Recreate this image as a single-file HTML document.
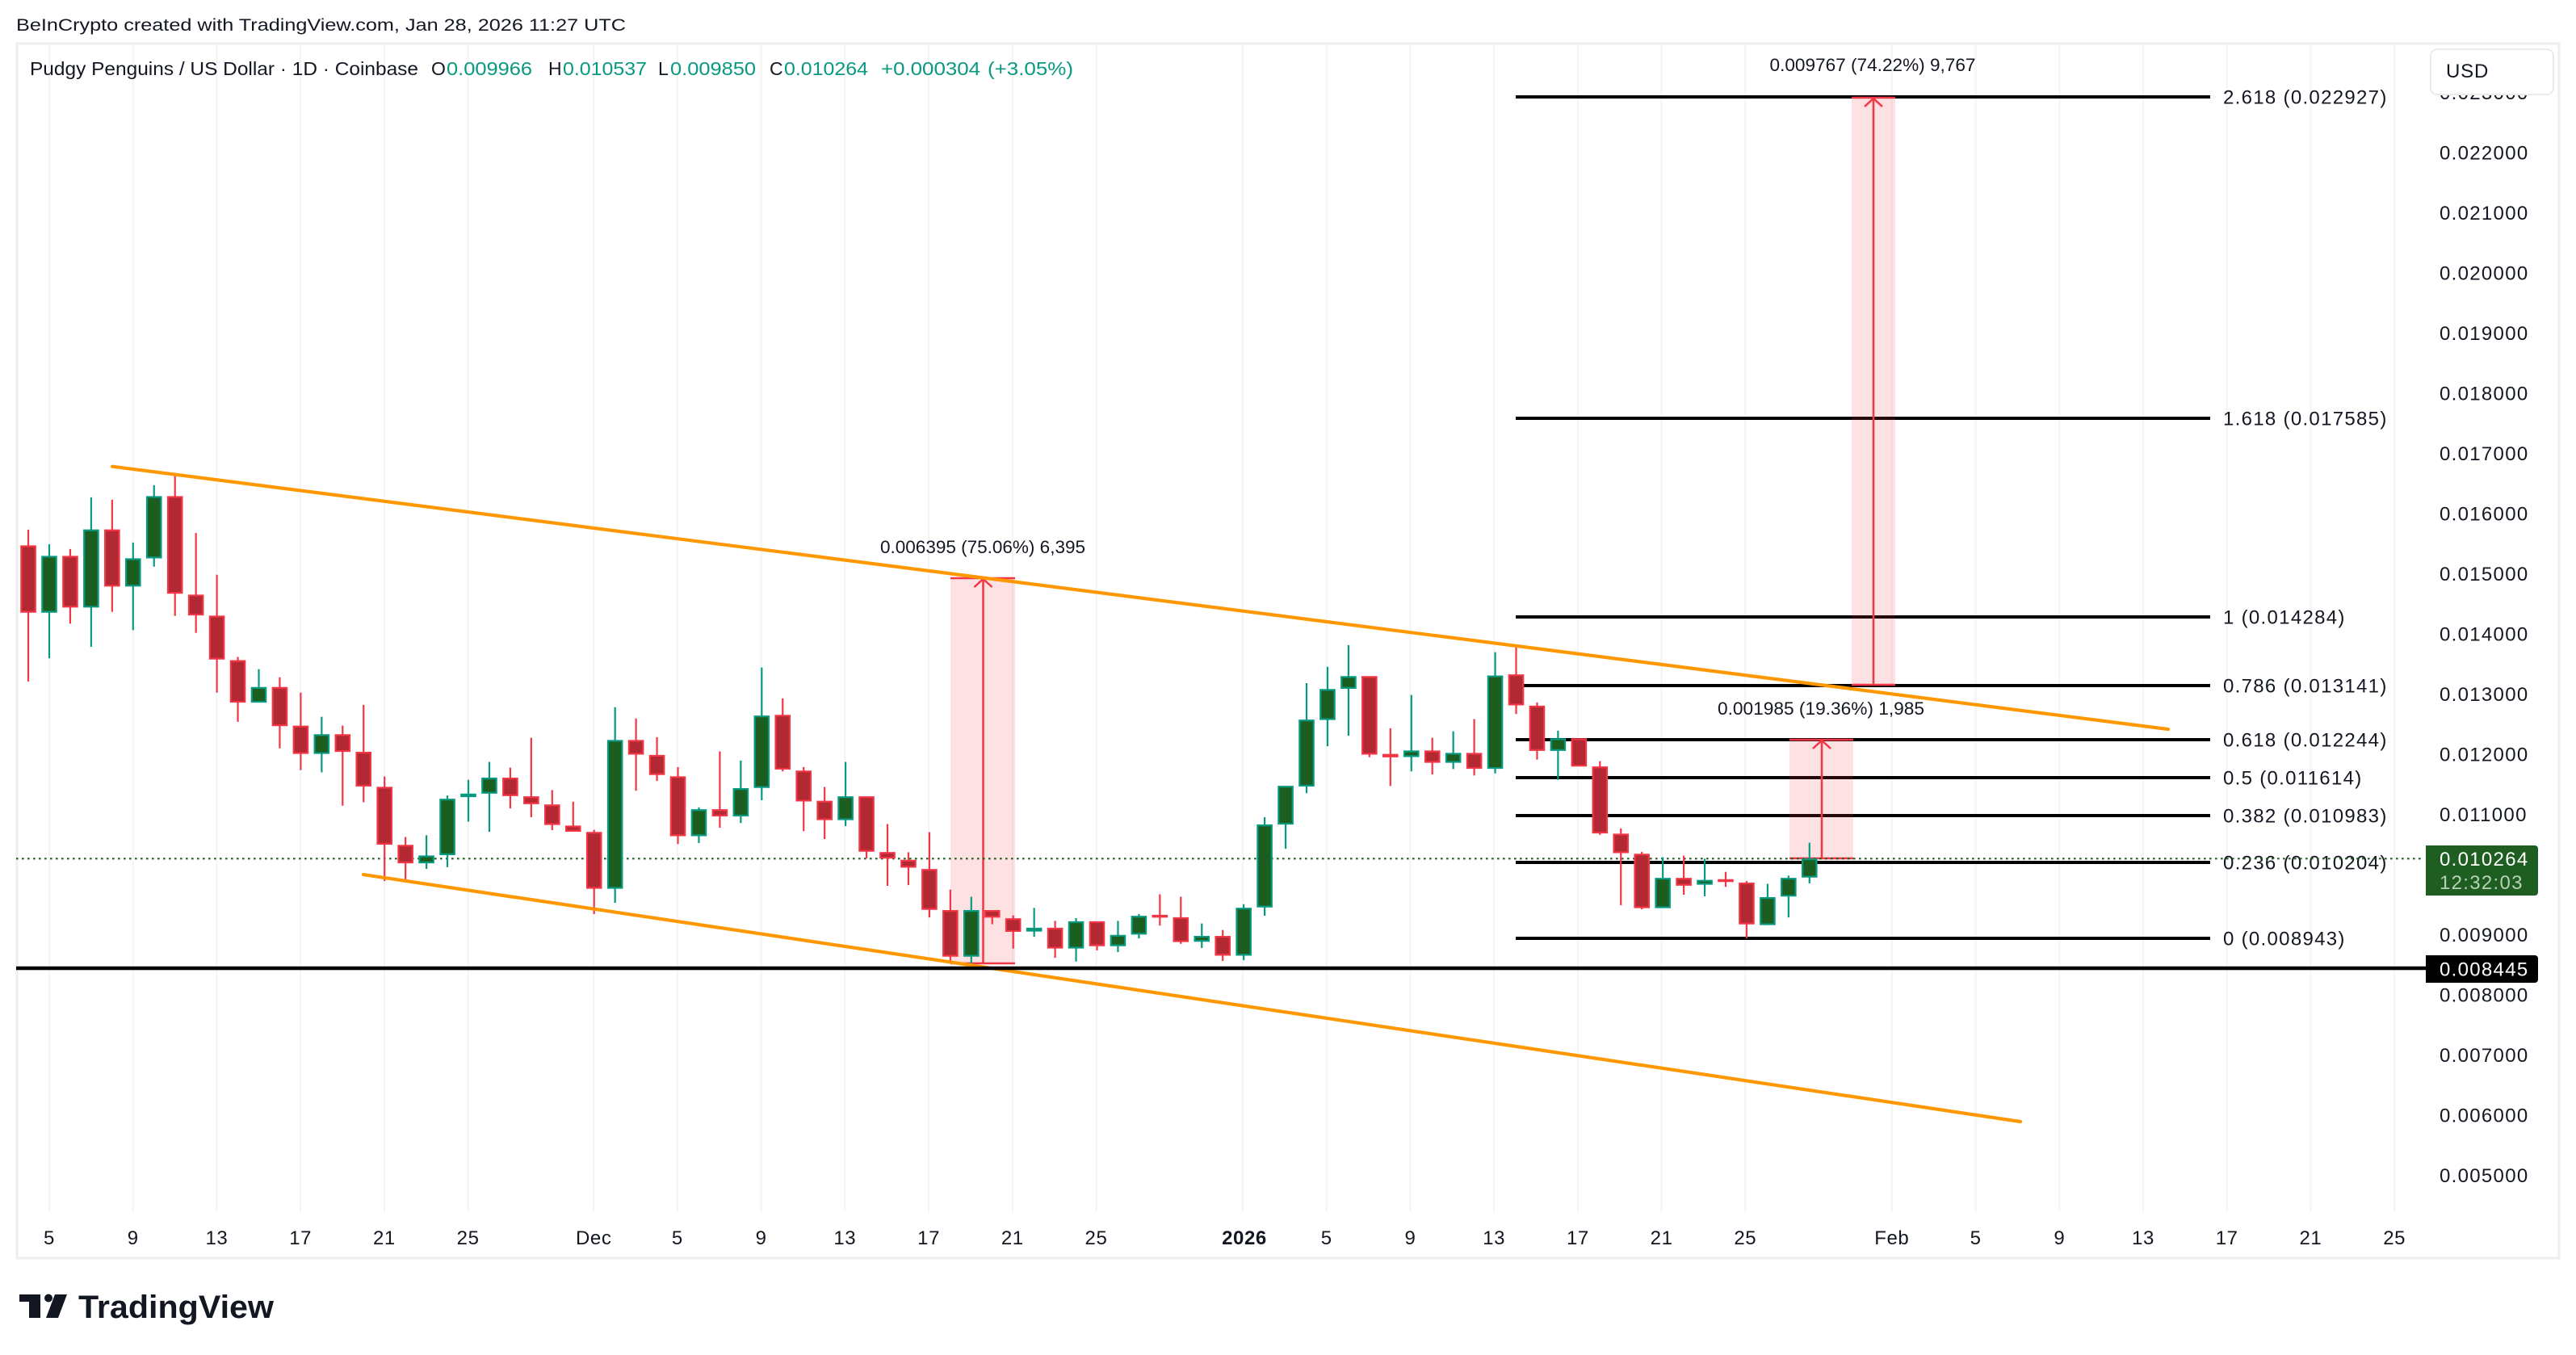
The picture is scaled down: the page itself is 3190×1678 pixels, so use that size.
<!DOCTYPE html>
<html>
<head>
<meta charset="utf-8">
<style>
html,body{margin:0;padding:0;background:#fff;}
svg{display:block;}
.nss{vector-effect:non-scaling-stroke;}
.cd rect,.cd path{vector-effect:non-scaling-stroke;}
text{font-family:"Liberation Sans",Arial,sans-serif;fill:#131722;}
.ax{font-size:24px;letter-spacing:1.3px;}
.tm{font-size:24px;text-anchor:middle;letter-spacing:0.6px;}
.ms{font-size:22px;text-anchor:middle;}
</style>
</head>
<body>
<svg width="3190" height="1678" viewBox="0 0 3190 1678" xmlns="http://www.w3.org/2000/svg">
<rect x="0" y="0" width="3190" height="1678" fill="#ffffff"/>

<!-- header -->
<text x="20" y="38" font-size="21" textLength="755" lengthAdjust="spacingAndGlyphs">BeInCrypto created with TradingView.com, Jan 28, 2026 11:27 UTC</text>

<!-- frame -->
<rect x="21" y="54" width="3148" height="1504" fill="none" stroke="#eeeeee" stroke-width="3"/>

<!-- vertical gridlines -->
<g stroke="#f4f4f4" stroke-width="2">
<line x1="61" y1="56" x2="61" y2="1501"/><line x1="164.7" y1="56" x2="164.7" y2="1501"/>
<line x1="268.4" y1="56" x2="268.4" y2="1501"/><line x1="372.2" y1="56" x2="372.2" y2="1501"/>
<line x1="475.9" y1="56" x2="475.9" y2="1501"/><line x1="579.6" y1="56" x2="579.6" y2="1501"/>
<line x1="735.2" y1="56" x2="735.2" y2="1501"/><line x1="838.9" y1="56" x2="838.9" y2="1501"/>
<line x1="942.6" y1="56" x2="942.6" y2="1501"/><line x1="1046.3" y1="56" x2="1046.3" y2="1501"/>
<line x1="1150.1" y1="56" x2="1150.1" y2="1501"/><line x1="1253.8" y1="56" x2="1253.8" y2="1501"/>
<line x1="1357.5" y1="56" x2="1357.5" y2="1501"/><line x1="1539" y1="56" x2="1539" y2="1501"/>
<line x1="1642.7" y1="56" x2="1642.7" y2="1501"/><line x1="1746.5" y1="56" x2="1746.5" y2="1501"/>
<line x1="1850.2" y1="56" x2="1850.2" y2="1501"/><line x1="1953.9" y1="56" x2="1953.9" y2="1501"/>
<line x1="2057.6" y1="56" x2="2057.6" y2="1501"/><line x1="2161.3" y1="56" x2="2161.3" y2="1501"/>
<line x1="2342.8" y1="56" x2="2342.8" y2="1501"/><line x1="2446.6" y1="56" x2="2446.6" y2="1501"/>
<line x1="2550.3" y1="56" x2="2550.3" y2="1501"/><line x1="2654" y1="56" x2="2654" y2="1501"/>
<line x1="2757.7" y1="56" x2="2757.7" y2="1501"/><line x1="2861.4" y1="56" x2="2861.4" y2="1501"/>
<line x1="2965.2" y1="56" x2="2965.2" y2="1501"/>
</g>

<!-- symbol line -->
<text x="37" y="93" font-size="23" textLength="481" lengthAdjust="spacingAndGlyphs">Pudgy Penguins / US Dollar · 1D · Coinbase</text>
<text x="534" y="93" font-size="23">O</text>
<text x="553" y="93" font-size="23" style="fill:#089981" textLength="106" lengthAdjust="spacingAndGlyphs">0.009966</text>
<text x="679" y="93" font-size="23">H</text>
<text x="697" y="93" font-size="23" style="fill:#089981" textLength="104" lengthAdjust="spacingAndGlyphs">0.010537</text>
<text x="815" y="93" font-size="23">L</text>
<text x="830" y="93" font-size="23" style="fill:#089981" textLength="106" lengthAdjust="spacingAndGlyphs">0.009850</text>
<text x="953" y="93" font-size="23">C</text>
<text x="971" y="93" font-size="23" style="fill:#089981" textLength="104" lengthAdjust="spacingAndGlyphs">0.010264</text>
<text x="1091" y="93" font-size="23" style="fill:#089981" textLength="123" lengthAdjust="spacingAndGlyphs">+0.000304</text>
<text x="1223" y="93" font-size="23" style="fill:#089981" textLength="106" lengthAdjust="spacingAndGlyphs">(+3.05%)</text>

<!-- fib lines -->
<g stroke="#000" stroke-width="4">
<line x1="1877" y1="120" x2="2737" y2="120"/>
<line x1="1877" y1="518" x2="2737" y2="518"/>
<line x1="1877" y1="764" x2="2737" y2="764"/>
<line x1="1877" y1="849" x2="2737" y2="849"/>
<line x1="1877" y1="916" x2="2737" y2="916"/>
<line x1="1877" y1="963" x2="2737" y2="963"/>
<line x1="1877" y1="1010" x2="2737" y2="1010"/>
<line x1="1877" y1="1068" x2="2737" y2="1068"/>
<line x1="1877" y1="1162" x2="2737" y2="1162"/>
</g>
<g class="ax">
<text x="2753" y="128.6">2.618 (0.022927)</text>
<text x="2753" y="526.6">1.618 (0.017585)</text>
<text x="2753" y="772.6">1 (0.014284)</text>
<text x="2753" y="857.6">0.786 (0.013141)</text>
<text x="2753" y="924.6">0.618 (0.012244)</text>
<text x="2753" y="971.6">0.5 (0.011614)</text>
<text x="2753" y="1018.6">0.382 (0.010983)</text>
<text x="2753" y="1076.6">0.236 (0.010204)</text>
<text x="2753" y="1170.6">0 (0.008943)</text>
</g>

<!-- measurement rectangles -->
<g fill="#f23645" fill-opacity="0.15">
<rect x="1177" y="716" width="80" height="477"/>
<rect x="2216" y="916" width="79" height="147"/>
<rect x="2293" y="120" width="54" height="728"/>
</g>
<g stroke="#f23645" stroke-width="2.5" fill="none">
<line x1="1177" y1="716" x2="1257" y2="716"/><line x1="1177" y1="1193" x2="1257" y2="1193"/>
<line x1="1217.5" y1="1193" x2="1217.5" y2="717"/><polyline points="1206.5,727 1217.5,717 1228.5,727"/>
<line x1="2216" y1="916" x2="2295" y2="916"/><line x1="2216" y1="1063" x2="2295" y2="1063"/>
<line x1="2256" y1="1063" x2="2256" y2="917"/><polyline points="2245,927 2256,917 2267,927"/>
<line x1="2293" y1="121" x2="2347" y2="121"/><line x1="2293" y1="848" x2="2347" y2="848"/>
<line x1="2320" y1="848" x2="2320" y2="122"/><polyline points="2309,132 2320,122 2331,132"/>
</g>
<text class="ms" x="1217" y="685" textLength="254" lengthAdjust="spacingAndGlyphs">0.006395 (75.06%) 6,395</text>
<text class="ms" x="2255" y="885" textLength="256" lengthAdjust="spacingAndGlyphs">0.001985 (19.36%) 1,985</text>
<text class="ms" x="2319" y="88" textLength="255" lengthAdjust="spacingAndGlyphs">0.009767 (74.22%) 9,767</text>

<!-- current price dotted line -->
<line x1="20" y1="1063.3" x2="3000" y2="1063.3" stroke="#1b5e20" stroke-width="2.2" stroke-dasharray="2.6 4.4"/>

<!-- candles -->
<g class="cd" transform="translate(61,560) scale(25.95,0.42052)">
<path fill="none" stroke="#f23645" stroke-width="2.2" d="M-1 228V675M1 285V505M3 140V470M6 66V482M7 238V532M8 361V708M9 603V794M11 663V872M12 708V936M14 805V1041M15 744V1031M16 955V1263M17 1133V1263M22 929V1049M23 841V1075M24 995V1113M25 1029V1117M26 1112V1360M28 784V997M29 839V968M30 927V1154M32 881V1106M35 725V940M36 927V1116M37 986V1139M39 1014V1196M40 1095V1277M41 1178V1275M42 1119V1370M43 1288V1505M45 1349V1390M46 1364V1462M48 1380V1489M50 1382V1467M53 1302V1394M54 1309V1448M56 1407V1498M63 660V898M64 813V983M66 841V949M68 786V952M70 570V771M71 737V905M73 843V925M74 910V1127M75 1108V1334M76 1177V1346M78 1188V1303M80 1236V1280M81 1263V1432"/>
<path fill="none" stroke="#089981" stroke-width="2.2" d="M0 271V607M2 133V573M4 266V524M5 97V337M10 639V737M13 779V943M18 1128V1227M19 1011V1222M20 965V1088M21 912V1118M27 751V1327M31 1046V1151M33 908V1092M34 634V1025M38 912V1101M44 1309V1518M47 1342V1427M49 1372V1500M51 1380V1472M52 1360V1432M55 1388V1460M57 1331V1496M58 1075V1365M59 983V1168M60 680V1004M61 632V866M62 568V835M65 715V940M67 822V933M69 589V946M72 820V965M77 1193V1342M79 1197V1308M82 1271V1392M83 1247V1370M84 1150V1270"/>
<g fill="#b22833" stroke="#f23645" stroke-width="2.2">
<rect x="-1.335" y="277" width=".67" height="193"/>
<rect x="0.665" y="308" width=".67" height="147"/>
<rect x="2.665" y="230" width=".67" height="163"/>
<rect x="5.665" y="132" width=".67" height="282"/>
<rect x="6.665" y="422" width=".67" height="56"/>
<rect x="7.665" y="484" width=".67" height="124"/>
<rect x="8.665" y="615" width=".67" height="120"/>
<rect x="10.665" y="694" width=".67" height="110"/>
<rect x="11.665" y="808" width=".67" height="78"/>
<rect x="13.665" y="833" width=".67" height="47"/>
<rect x="14.665" y="885" width=".67" height="97"/>
<rect x="15.665" y="988" width=".67" height="165"/>
<rect x="16.665" y="1159" width=".67" height="49"/>
<rect x="21.665" y="961" width=".67" height="49"/>
<rect x="22.665" y="1016" width=".67" height="18"/>
<rect x="23.665" y="1040" width=".67" height="55"/>
<rect x="24.665" y="1102" width=".67" height="13"/>
<rect x="25.665" y="1121" width=".67" height="162"/>
<rect x="27.665" y="850" width=".67" height="38"/>
<rect x="28.665" y="894" width=".67" height="54"/>
<rect x="29.665" y="957" width=".67" height="171"/>
<rect x="31.665" y="1054" width=".67" height="16"/>
<rect x="34.665" y="776" width=".67" height="156"/>
<rect x="35.665" y="940" width=".67" height="86"/>
<rect x="36.665" y="1029" width=".67" height="52"/>
<rect x="38.665" y="1016" width=".67" height="158"/>
<rect x="39.665" y="1180" width=".67" height="14"/>
<rect x="40.665" y="1203" width=".67" height="18"/>
<rect x="41.665" y="1230" width=".67" height="115"/>
<rect x="42.665" y="1351" width=".67" height="132"/>
<rect x="44.665" y="1351" width=".67" height="17"/>
<rect x="45.665" y="1375" width=".67" height="35"/>
<rect x="47.665" y="1403" width=".67" height="56"/>
<rect x="49.665" y="1384" width=".67" height="68"/>
<rect x="52.665" y="1365" width=".67" height="3"/>
<rect x="53.665" y="1372" width=".67" height="68"/>
<rect x="55.665" y="1427" width=".67" height="53"/>
<rect x="62.665" y="662" width=".67" height="226"/>
<rect x="63.665" y="891" width=".67" height="5"/>
<rect x="65.665" y="881" width=".67" height="31"/>
<rect x="67.665" y="888" width=".67" height="42"/>
<rect x="69.665" y="657" width=".67" height="86"/>
<rect x="70.665" y="749" width=".67" height="128"/>
<rect x="72.665" y="845" width=".67" height="78"/>
<rect x="73.665" y="928" width=".67" height="192"/>
<rect x="74.665" y="1126" width=".67" height="52"/>
<rect x="75.665" y="1185" width=".67" height="155"/>
<rect x="77.665" y="1256" width=".67" height="18"/>
<rect x="79.665" y="1260" width=".67" height="3"/>
<rect x="80.665" y="1270" width=".67" height="118"/>
</g>
<g fill="#1b5e20" stroke="#089981" stroke-width="2.2">
<rect x="-0.335" y="308" width=".67" height="162"/>
<rect x="1.665" y="230" width=".67" height="225"/>
<rect x="3.665" y="315" width=".67" height="78"/>
<rect x="4.665" y="132" width=".67" height="178"/>
<rect x="9.665" y="694" width=".67" height="41"/>
<rect x="12.665" y="833" width=".67" height="53"/>
<rect x="17.665" y="1190" width=".67" height="18"/>
<rect x="18.665" y="1023" width=".67" height="161"/>
<rect x="19.665" y="1008" width=".67" height="5"/>
<rect x="20.665" y="961" width=".67" height="42"/>
<rect x="26.665" y="850" width=".67" height="433"/>
<rect x="30.665" y="1054" width=".67" height="74"/>
<rect x="32.665" y="992" width=".67" height="78"/>
<rect x="33.665" y="778" width=".67" height="208"/>
<rect x="37.665" y="1016" width=".67" height="65"/>
<rect x="43.665" y="1351" width=".67" height="132"/>
<rect x="46.665" y="1403" width=".67" height="6"/>
<rect x="48.665" y="1384" width=".67" height="75"/>
<rect x="50.665" y="1424" width=".67" height="28"/>
<rect x="51.665" y="1368" width=".67" height="50"/>
<rect x="54.665" y="1427" width=".67" height="12"/>
<rect x="56.665" y="1344" width=".67" height="136"/>
<rect x="57.665" y="1099" width=".67" height="239"/>
<rect x="58.665" y="985" width=".67" height="109"/>
<rect x="59.665" y="790" width=".67" height="192"/>
<rect x="60.665" y="700" width=".67" height="86"/>
<rect x="61.665" y="662" width=".67" height="32"/>
<rect x="64.665" y="881" width=".67" height="14"/>
<rect x="66.665" y="888" width=".67" height="24"/>
<rect x="68.665" y="660" width=".67" height="270"/>
<rect x="71.665" y="845" width=".67" height="32"/>
<rect x="76.665" y="1256" width=".67" height="84"/>
<rect x="78.665" y="1262" width=".67" height="9"/>
<rect x="81.665" y="1313" width=".67" height="77"/>
<rect x="82.665" y="1256" width=".67" height="50"/>
<rect x="83.665" y="1199" width=".67" height="51"/>
</g>
</g>

<!-- trend lines -->
<g stroke="#ff9800" stroke-width="4.2" stroke-linecap="round">
<line x1="139" y1="577.7" x2="2685" y2="903.1"/>
<line x1="450" y1="1083.1" x2="2502" y2="1389"/>
</g>

<!-- horizontal support line -->
<line x1="20" y1="1199" x2="3004" y2="1199" stroke="#000" stroke-width="4.6"/>

<!-- price axis labels -->
<g class="ax">
<text x="3021" y="123.1">0.023000</text>
<text x="3021" y="197.6">0.022000</text>
<text x="3021" y="272.1">0.021000</text>
<text x="3021" y="346.6">0.020000</text>
<text x="3021" y="421.1">0.019000</text>
<text x="3021" y="495.6">0.018000</text>
<text x="3021" y="570.1">0.017000</text>
<text x="3021" y="644.6">0.016000</text>
<text x="3021" y="719.1">0.015000</text>
<text x="3021" y="793.6">0.014000</text>
<text x="3021" y="868.1">0.013000</text>
<text x="3021" y="942.6">0.012000</text>
<text x="3021" y="1017.1">0.011000</text>
<text x="3021" y="1166.1">0.009000</text>
<text x="3021" y="1240.6">0.008000</text>
<text x="3021" y="1315.1">0.007000</text>
<text x="3021" y="1389.6">0.006000</text>
<text x="3021" y="1464.1">0.005000</text>
</g>

<!-- USD box -->
<rect x="3010" y="61" width="152" height="56" rx="8" ry="8" fill="#ffffff" stroke="#ebebeb" stroke-width="2"/>
<text x="3029" y="96" font-size="24" letter-spacing="0.8">USD</text>

<!-- current price tag -->
<path d="M3004 1047H3139a4 4 0 0 1 4 4V1105a4 4 0 0 1 -4 4H3004Z" fill="#1e5e20"/>
<text class="ax" x="3021" y="1072" style="fill:#ffffff">0.010264</text>
<text class="ax" x="3021" y="1101" style="fill:#b7d0b8">12:32:03</text>

<!-- support tag -->
<path d="M3004 1183H3139a4 4 0 0 1 4 4V1213a4 4 0 0 1 -4 4H3004Z" fill="#000000"/>
<text class="ax" x="3021" y="1208.6" style="fill:#ffffff">0.008445</text>

<!-- time axis -->
<g class="tm">
<text x="61" y="1541">5</text>
<text x="164.7" y="1541">9</text>
<text x="268.4" y="1541">13</text>
<text x="372.2" y="1541">17</text>
<text x="475.9" y="1541">21</text>
<text x="579.6" y="1541">25</text>
<text x="735.2" y="1541">Dec</text>
<text x="838.9" y="1541">5</text>
<text x="942.6" y="1541">9</text>
<text x="1046.3" y="1541">13</text>
<text x="1150.1" y="1541">17</text>
<text x="1253.8" y="1541">21</text>
<text x="1357.5" y="1541">25</text>
<text x="1541" y="1541" font-weight="bold">2026</text>
<text x="1642.7" y="1541">5</text>
<text x="1746.5" y="1541">9</text>
<text x="1850.2" y="1541">13</text>
<text x="1953.9" y="1541">17</text>
<text x="2057.6" y="1541">21</text>
<text x="2161.3" y="1541">25</text>
<text x="2342.8" y="1541">Feb</text>
<text x="2446.6" y="1541">5</text>
<text x="2550.3" y="1541">9</text>
<text x="2654" y="1541">13</text>
<text x="2757.7" y="1541">17</text>
<text x="2861.4" y="1541">21</text>
<text x="2965.2" y="1541">25</text>
</g>

<!-- TradingView logo -->
<g fill="#131722">
<rect x="24" y="1603" width="26" height="9"/>
<rect x="36" y="1603" width="14" height="29"/>
<circle cx="60" cy="1607.5" r="5"/>
<polygon points="68,1603 83,1603 72,1632 57,1632"/>
</g>
<text x="97" y="1632" font-size="40" font-weight="bold" textLength="242" lengthAdjust="spacingAndGlyphs">TradingView</text>
</svg>
</body>
</html>
